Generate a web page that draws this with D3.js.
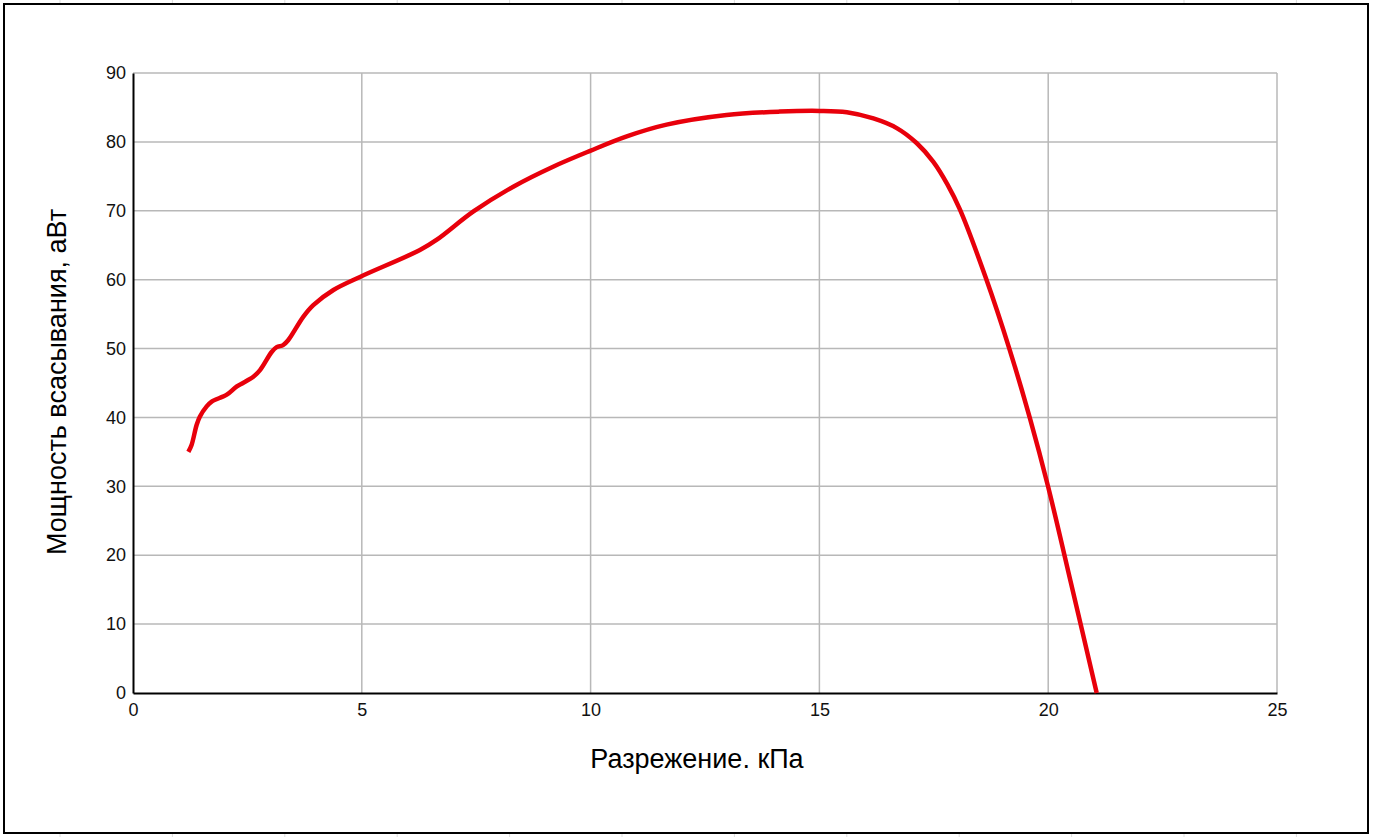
<!DOCTYPE html>
<html>
<head>
<meta charset="utf-8">
<script src="https://cdn.jsdelivr.net/npm/d3@7"></script>
<style>
  html, body { margin: 0; padding: 0; background: #fff; }
  svg { display: block; }
</style>
</head>
<body>
<svg id="chart"></svg>
<script>
// Разрежение, кПа
const pressure = [1.21, 1.28, 1.39, 1.46, 1.61, 1.72, 2.05, 2.27, 2.63, 2.78, 3.03, 3.14, 3.28, 3.39,
  3.72, 3.94, 4.38, 4.96, 6.27, 6.64, 7.44, 8.31, 9.18, 9.99, 10.79, 11.66, 12.97, 14.13, 15.01,
  15.6, 16.18, 16.69, 17.13, 17.49, 17.8, 18.07, 18.64, 19.15, 19.6, 20.0, 20.5, 21.06];
// Мощность всасывания, аВт
const power = [35.0, 36.0, 38.9, 40.1, 41.6, 42.3, 43.3, 44.5, 45.9, 46.9, 49.5, 50.2, 50.5, 51.2,
  54.6, 56.3, 58.5, 60.4, 64.3, 65.8, 69.9, 73.5, 76.4, 78.7, 80.8, 82.5, 83.9, 84.4, 84.5,
  84.3, 83.4, 82.0, 79.8, 77.1, 73.8, 70.2, 60.2, 50.0, 39.9, 29.9, 15.9, 0];

const xTicks = [0, 5, 10, 15, 20, 25];
const yTicks = [0, 10, 20, 30, 40, 50, 60, 70, 80, 90];

const xTitle = 'Разрежение. кПа';
const yTitle = 'Мощность всасывания, аВт';

const width = 1374, height = 837;
const margin = { left: 133, right: 97, top: 73, bottom: 144 };
const fontFamily = 'Liberation Sans, Arial, sans-serif';

const svg = d3.select('#chart').attr('width', width).attr('height', height);

// frame with faint ruler ticks
const rulerX = d3.range(60, width, 112.4);
svg.append('g').selectAll('line')
  .data(rulerX)
  .enter()
  .append('line')
  .attr('x1', (d) => d).attr('x2', (d) => d)
  .attr('y1', 0).attr('y2', 4)
  .attr('stroke', '#ddd');
svg.append('g').selectAll('line')
  .data(rulerX)
  .enter()
  .append('line')
  .attr('x1', (d) => d).attr('x2', (d) => d)
  .attr('y1', 833).attr('y2', 837)
  .attr('stroke', '#ddd');

svg.append('rect')
  .attr('x', 4).attr('y', 4)
  .attr('width', 1364).attr('height', 829)
  .attr('fill', 'none')
  .attr('stroke', '#000')
  .attr('stroke-width', 2);

const x = d3.scaleLinear().domain([0, 25]).range([margin.left, width - margin.right]);
const y = d3.scaleLinear().domain([0, 90]).range([height - margin.bottom, margin.top]);

// grid
const gridG = svg.append('g');
gridG.selectAll('line.h')
  .data(yTicks.filter((d) => d > 0))
  .enter()
  .append('line')
  .attr('class', 'h')
  .attr('x1', x(0)).attr('x2', x(25))
  .attr('y1', (d) => y(d)).attr('y2', (d) => y(d))
  .attr('stroke', '#b8b8b8')
  .attr('stroke-width', 1.5);
gridG.selectAll('line.v')
  .data(xTicks.filter((d) => d > 0))
  .enter()
  .append('line')
  .attr('class', 'v')
  .attr('x1', (d) => x(d)).attr('x2', (d) => x(d))
  .attr('y1', y(0)).attr('y2', y(90))
  .attr('stroke', '#b8b8b8')
  .attr('stroke-width', 1.5);

// axes
const xAxis = svg.append('g')
  .attr('transform', `translate(0,${y(0)})`)
  .call(d3.axisBottom(x).tickValues(xTicks).tickSize(0).tickPadding(10));
const yAxis = svg.append('g')
  .attr('transform', `translate(${x(0)},0)`)
  .call(d3.axisLeft(y).tickValues(yTicks).tickSize(0).tickPadding(7));

[xAxis, yAxis].forEach((g) => {
  g.select('.domain').attr('stroke', '#000').attr('stroke-width', 2);
  g.selectAll('text')
    .attr('font-family', fontFamily)
    .attr('font-size', '18px')
    .attr('fill', '#111');
});

// curve
const line = d3.line()
  .x((d) => x(d[0]))
  .y((d) => y(d[1]))
  .curve(d3.curveCatmullRom.alpha(0.5));

svg.append('path')
  .datum(pressure.map((p, i) => [p, power[i]]))
  .attr('fill', 'none')
  .attr('stroke', '#e8000b')
  .attr('stroke-width', 4.5)
  .attr('stroke-linejoin', 'round')
  .attr('stroke-linecap', 'butt')
  .attr('d', line);

// titles
svg.append('text')
  .attr('x', 697).attr('y', 768)
  .attr('text-anchor', 'middle')
  .attr('font-family', fontFamily)
  .attr('font-size', '27px')
  .attr('fill', '#000')
  .text(xTitle);

svg.append('text')
  .attr('transform', 'translate(66,382) rotate(-90)')
  .attr('text-anchor', 'middle')
  .attr('font-family', fontFamily)
  .attr('font-size', '27px')
  .attr('fill', '#000')
  .text(yTitle);
</script>
</body>
</html>
